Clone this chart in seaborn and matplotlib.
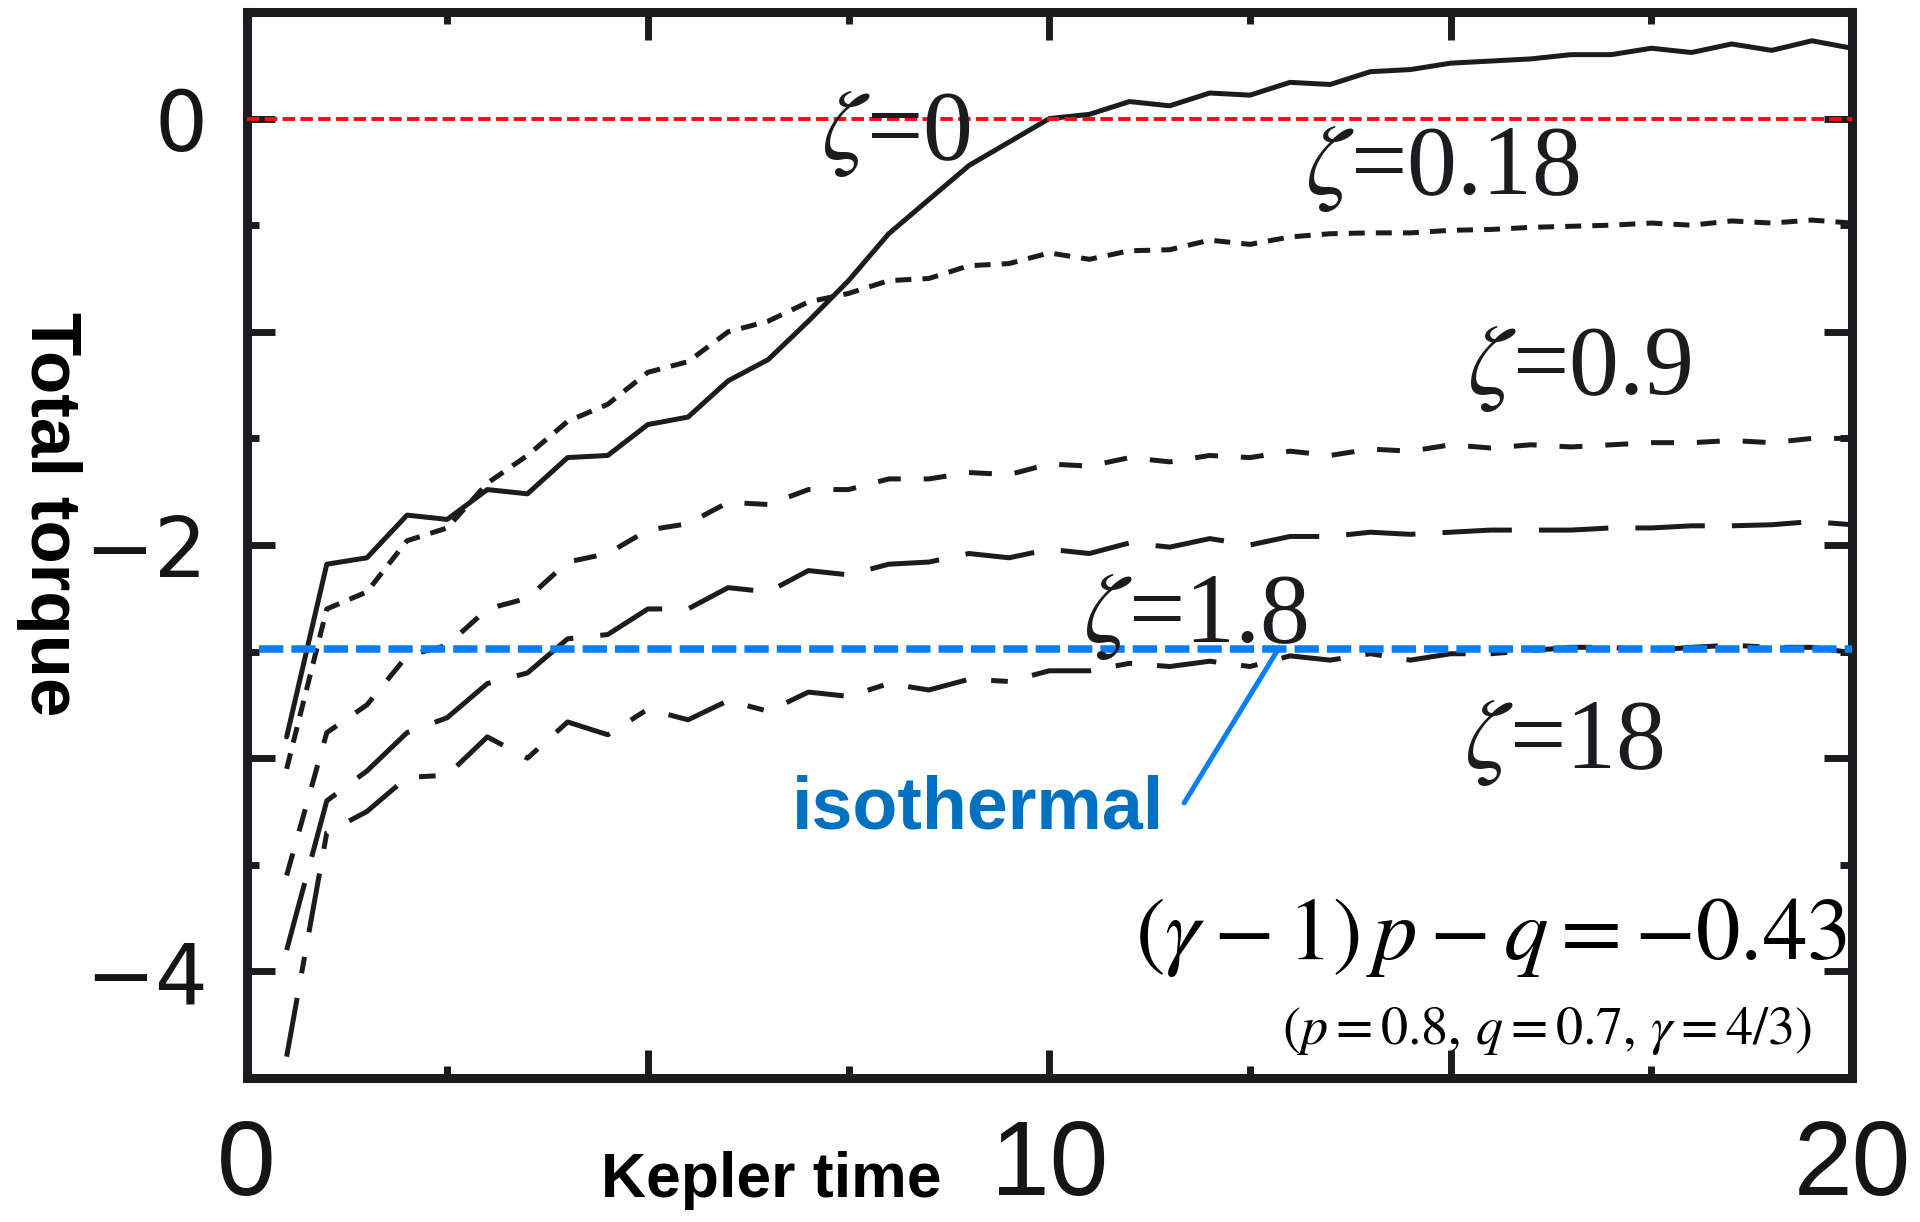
import numpy as np
import pandas as pd
import matplotlib
matplotlib.use("Agg")
import matplotlib.pyplot as plt
from matplotlib import font_manager
from matplotlib.ticker import FixedLocator, FixedFormatter
import seaborn as sns

# ---------------- data ----------------
time = [0.5, 1.0, 1.5, 2.0, 2.5, 3.0, 3.5, 4.0, 4.5, 5.0,
        5.5, 6.0, 6.5, 7.0, 7.5, 8.0, 8.5, 9.0, 9.5, 10.0,
        10.5, 11.0, 11.5, 12.0, 12.5, 13.0, 13.5, 14.0, 14.5, 15.0,
        15.5, 16.0, 16.5, 17.0, 17.5, 18.0, 18.5, 19.0, 19.5, 20.0]

torque_z0 = [-2.90, -2.09, -2.06, -1.86, -1.88, -1.74, -1.76, -1.59, -1.58, -1.435,
             -1.40, -1.23, -1.13, -0.95, -0.76, -0.54, -0.38, -0.22, -0.11, 0.00,
             0.02, 0.08, 0.06, 0.12, 0.11, 0.17, 0.16, 0.22, 0.23, 0.26,
             0.27, 0.28, 0.30, 0.30, 0.33, 0.31, 0.35, 0.32, 0.365, 0.33]

torque_z018 = [-3.05, -2.30, -2.22, -1.98, -1.92, -1.71, -1.58, -1.42, -1.34, -1.19,
               -1.14, -1.00, -0.95, -0.86, -0.82, -0.76, -0.75, -0.69, -0.68, -0.63,
               -0.66, -0.62, -0.615, -0.57, -0.59, -0.555, -0.54, -0.536, -0.536, -0.524,
               -0.52, -0.51, -0.505, -0.50, -0.49, -0.50, -0.48, -0.49, -0.476, -0.49]

torque_z09 = [-3.55, -2.88, -2.75, -2.52, -2.47, -2.30, -2.25, -2.08, -2.04, -1.93,
              -1.90, -1.80, -1.81, -1.74, -1.74, -1.69, -1.69, -1.66, -1.67, -1.62,
              -1.63, -1.59, -1.61, -1.58, -1.59, -1.56, -1.58, -1.55, -1.56, -1.53,
              -1.545, -1.53, -1.54, -1.53, -1.52, -1.52, -1.51, -1.52, -1.50, -1.50]

torque_z18 = [-3.90, -3.20, -3.06, -2.88, -2.81, -2.65, -2.60, -2.44, -2.42, -2.30,
              -2.30, -2.20, -2.22, -2.12, -2.14, -2.09, -2.08, -2.04, -2.06, -2.02,
              -2.04, -1.99, -2.01, -1.97, -2.00, -1.96, -1.96, -1.94, -1.95, -1.94,
              -1.93, -1.93, -1.93, -1.92, -1.92, -1.91, -1.91, -1.905, -1.89, -1.905]

torque_z180 = [-4.40, -3.35, -3.25, -3.09, -3.08, -2.90, -3.00, -2.83, -2.89, -2.77,
               -2.82, -2.73, -2.78, -2.69, -2.71, -2.65, -2.68, -2.63, -2.64, -2.59,
               -2.59, -2.555, -2.57, -2.545, -2.57, -2.52, -2.54, -2.51, -2.54, -2.51,
               -2.51, -2.495, -2.48, -2.48, -2.495, -2.48, -2.47, -2.48, -2.48, -2.505]

zeta_levels = ["0", "0.18", "0.9", "1.8", "18"]
zeta_series = [torque_z0, torque_z018, torque_z09, torque_z18, torque_z180]

isothermal_level = -2.49
isothermal_start = 0.15
reference_level = 0.0

x_major = [0, 5, 10, 15, 20]
x_minor = [2.5, 7.5, 12.5, 17.5]
x_ticklabels = ["0", "", "10", "", "20"]
y_major = [-4, -3, -2, -1, 0]
y_minor = [-3.5, -2.5, -1.5, -0.5]
y_ticklabels = ["\u22124", "", "\u22122", "", "0"]

# curve labels: (text, x left, baseline y)
curve_labels = [(r"$\zeta$=0", 7.16, -0.19),
                (r"$\zeta$=0.18", 13.18, -0.355),
                (r"$\zeta$=0.9", 15.21, -1.29),
                (r"$\zeta$=1.8", 10.42, -2.454),
                (r"$\zeta$=18", 15.17, -3.045)]

# ---------------- style ----------------
sns.set_theme(style="ticks")
plt.rcParams["font.family"] = ["Liberation Sans", "DejaVu Sans"]
plt.rcParams["mathtext.fontset"] = "stix"
plt.rcParams["lines.scale_dashes"] = False
plt.rcParams["axes.unicode_minus"] = True

names = {f.name for f in font_manager.fontManager.ttflist}
narrow = "Liberation Sans Narrow" if "Liberation Sans Narrow" in names else "Liberation Sans"

INK = "#1c1b20"
BLUE_LINE = "#0a7ef7"
BLUE_TEXT = "#0070c0"
RED = "#ff0a0a"

fig = plt.figure(figsize=(19.2, 12.22), dpi=100)
ax = fig.add_axes([246.5 / 1920, 1 - 1078 / 1222, (1852 - 246.5) / 1920, (1078 - 12) / 1222])

df = pd.DataFrame({
    "time": np.tile(time, len(zeta_levels)),
    "torque": np.concatenate(zeta_series),
    "zeta": np.repeat(zeta_levels, len(time)),
})

dashes = {"0": "",
          "0.18": (11.5, 8.0),
          "0.9": (16.5, 16.5),
          "1.8": (50.0, 19.5),
          "18": (43.0, 18.0, 12.0, 18.0)}
palette = {z: INK for z in zeta_levels}

sns.lineplot(data=df, x="time", y="torque", hue="zeta", style="zeta",
             hue_order=zeta_levels, style_order=zeta_levels,
             palette=palette, dashes=dashes, estimator=None, sort=False,
             legend=False, linewidth=3.6, ax=ax, zorder=3)

# reference lines
ax.axhline(reference_level, color=RED, lw=2.8, dashes=(9.0, 3.8), zorder=4)
ax.hlines(isothermal_level, isothermal_start, 20, color=BLUE_LINE, lw=5.4,
          linestyles=[(0, (17.5, 5.8))], zorder=5)

# axes limits and ticks
ax.set_xlim(0, 20)
ax.set_ylim(-4.5, 0.5)
ax.xaxis.set_major_locator(FixedLocator(x_major))
ax.xaxis.set_major_formatter(FixedFormatter(x_ticklabels))
ax.xaxis.set_minor_locator(FixedLocator(x_minor))
ax.yaxis.set_major_locator(FixedLocator(y_major))
ax.yaxis.set_major_formatter(FixedFormatter(y_ticklabels))
ax.yaxis.set_minor_locator(FixedLocator(y_minor))

ax.tick_params(which="both", direction="in", top=True, right=True, color=INK, width=5)
ax.tick_params(which="major", length=20)
ax.tick_params(which="minor", length=8.6)
ax.tick_params(axis="x", which="major", pad=29, labelsize=76, labelcolor="#151515")
ax.tick_params(axis="y", which="major", pad=28, labelsize=60, labelcolor="#151515")
for lab in ax.get_xticklabels():
    lab.set_family(narrow)
for lab in ax.get_yticklabels():
    lab.set_family("DejaVu Sans")

for s in ax.spines.values():
    s.set_linewidth(6.5)
    s.set_color(INK)
    s.set_visible(True)

ax.set_xlabel("Kepler time", fontsize=45, fontweight="bold", color="black")
ax.xaxis.set_label_coords((771.5 - 246.5) / 1605.5, (1078 - 1197) / 1066)
ax.xaxis.label.set_va("baseline")
ax.xaxis.label.set_ha("center")
ax.set_ylabel("Total torque", fontsize=51, fontweight="bold", color="black",
              rotation=270)
ax.yaxis.set_label_coords((49 - 246.5) / 1605.5, (1078 - 514) / 1066)
ax.yaxis.label.set_va("center")
ax.yaxis.label.set_ha("center")

# curve labels
for txt, lx, ly in curve_labels:
    ax.text(lx, ly, txt, family="Liberation Serif", fontsize=72, color=INK,
            ha="left", va="baseline", zorder=6)

# formula
ax.text(19.94, -3.94, r"$(\gamma-1)\,p-q=-0.43$", fontsize=64, color="black",
        ha="right", va="baseline", zorder=6)
ax.text(19.5, -4.34, r"$(p=0.8,\,q=0.7,\,\gamma=4/3)$", fontsize=39, color="black",
        ha="right", va="baseline", zorder=6)

# isothermal annotation
ax.text(6.79, -3.33, "isothermal", fontsize=53, fontweight="bold", color=BLUE_TEXT,
        ha="left", va="baseline", zorder=6)
ax.annotate("", xy=(12.85, isothermal_level), xytext=(11.68, -3.21),
            arrowprops=dict(arrowstyle="-", color=BLUE_LINE, lw=3.6,
                            shrinkA=0, shrinkB=0), zorder=6)

fig.savefig("out.png", dpi=100, facecolor="white")
